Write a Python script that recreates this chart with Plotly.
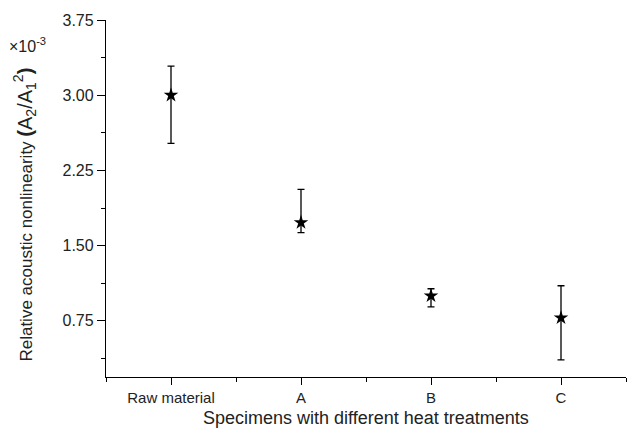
import plotly.graph_objects as go

# Relative acoustic nonlinearity (x10^-3) per heat-treatment specimen
specimens = ["Raw material", "A", "B", "C"]
nonlinearity = [3.00, 1.73, 1.00, 0.78]
err_upper = [0.29, 0.33, 0.07, 0.32]
err_lower = [0.48, 0.10, 0.11, 0.42]
y_ticks = [0.75, 1.50, 2.25, 3.00, 3.75]

positions = list(range(1, len(specimens) + 1))

font_family = "Liberation Sans, Arial, sans-serif"
text_color = "#222222"

fig = go.Figure()
fig.add_trace(go.Scatter(
    x=positions,
    y=nonlinearity,
    mode="markers",
    marker=dict(symbol="star", size=11, color="black", line=dict(width=0)),
    error_y=dict(
        type="data",
        symmetric=False,
        array=err_upper,
        arrayminus=err_lower,
        color="black",
        thickness=1.3,
        width=3.5,
    ),
    showlegend=False,
))

fig.update_layout(
    width=640,
    height=431,
    margin=dict(l=106, r=14, t=20, b=54),
    paper_bgcolor="white",
    plot_bgcolor="white",
    font=dict(family=font_family, color=text_color, size=15),
    xaxis=dict(
        range=[0.5, 4.5],
        tickvals=positions,
        ticktext=specimens,
        automargin=False,
        showgrid=False,
        zeroline=False,
        showline=True,
        linecolor="black",
        linewidth=1.3,
        ticks="outside",
        ticklen=7,
        tickwidth=1.2,
        tickcolor="black",
        tickfont=dict(size=15),
        ticklabelstandoff=0,
        minor=dict(tick0=0.5, dtick=0.5, ticks="outside", ticklen=4,
                   tickwidth=1.2, tickcolor="black", showgrid=False),
    ),
    yaxis=dict(
        range=[0.19, 3.75],
        tickvals=y_ticks,
        ticktext=[f"{v:.2f}" for v in y_ticks],
        automargin=False,
        showgrid=False,
        zeroline=False,
        showline=True,
        linecolor="black",
        linewidth=1.3,
        ticks="outside",
        ticklen=8,
        tickwidth=1.2,
        tickcolor="black",
        tickfont=dict(size=16),
        minor=dict(tick0=0.375, dtick=0.375, ticks="outside", ticklen=4,
                   tickwidth=1.2, tickcolor="black", showgrid=False),
    ),
)

# X-axis title below the category labels
fig.add_annotation(
    xref="paper", yref="paper",
    x=0.5, y=0, yshift=-41,
    xanchor="center", yanchor="middle",
    showarrow=False,
    text="Specimens with different heat treatments",
    font=dict(size=18, color=text_color),
)

# Rotated y-axis title with the amplitude ratio
fig.add_annotation(
    xref="paper", yref="paper",
    x=0, y=0.455, xshift=-81,
    xanchor="center", yanchor="middle",
    textangle=-90,
    showarrow=False,
    text=("Relative acoustic nonlinearity "
          "<span style='font-size:20px'><b>(</b>A<sub>2</sub>/A<sub>1</sub>"
          "<sup>2</sup><b>)</b></span>"),
    font=dict(size=17, color=text_color),
)

# Scale factor label above the y-axis
fig.add_annotation(
    xref="paper", yref="paper",
    x=0, y=0.93, xshift=-79,
    xanchor="center", yanchor="middle",
    showarrow=False,
    text="×10<sup>-3</sup>",
    font=dict(size=16, color=text_color),
)

fig.write_html("out.html")
